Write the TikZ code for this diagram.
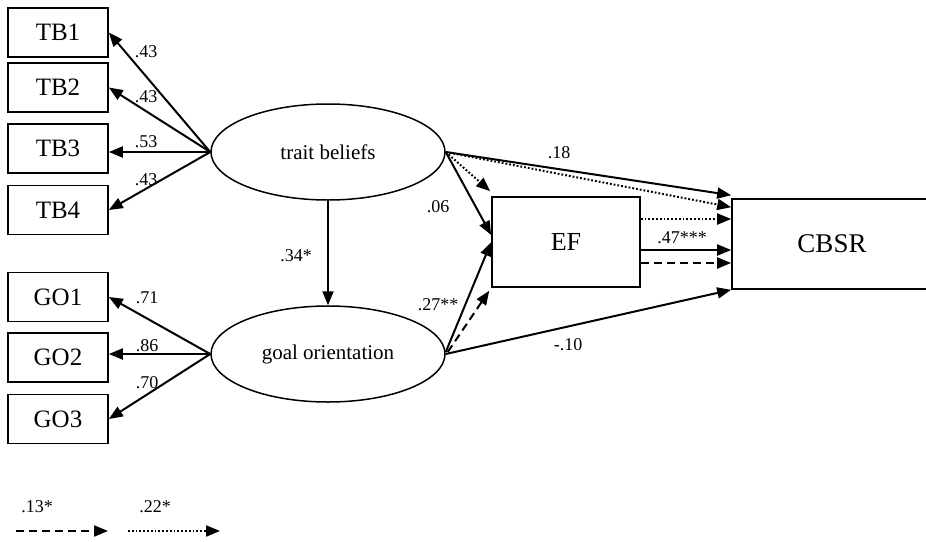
\documentclass[tikz,border=0pt]{standalone}
\usepackage{fontspec}
\setmainfont{Liberation Serif}
\usetikzlibrary{arrows.meta,shapes.geometric}

\tikzset{
    ind/.style={draw, line width=1.6pt, minimum width=100pt, minimum height=49pt, inner sep=0pt, font=\fontsize{25}{25}\selectfont},
    lat/.style={draw, ellipse, line width=1.5pt, minimum width=234pt, minimum height=96pt, inner sep=0pt, font=\fontsize{21}{21}\selectfont},
    path/.style={line width=2pt, -{Triangle[length=14pt, width=11pt]}},
    coef/.style={font=\fontsize{18}{18}\selectfont, inner sep=0pt},
    dashline/.style={dash pattern=on 8pt off 5pt},
    dotline/.style={dash pattern=on 1.8pt off 2pt}
}

\begin{document}
\begin{tikzpicture}[x=1pt, y=-1pt]
    \useasboundingbox (0,0) rectangle (926,541);

    \node[ind](tb1) at (58,32.5) {TB1};
    \node[ind](tb2) at (58,87.5) {TB2};
    \node[ind](tb3) at (58,148.5) {TB3};
    \node[ind](tb4) at (58,210) {TB4};

    \node[ind](go1) at (58,297) {GO1};
    \node[ind](go2) at (58,357.5) {GO2};
    \node[ind](go3) at (58,419) {GO3};

    \node[lat](tb) at (328,152) {trait beliefs};
    \node[lat](go) at (328,354) {goal orientation};

    \node[ind, minimum width=148pt, minimum height=90pt, font=\fontsize{26}{26}\selectfont](ef) at (566,242) {EF};
    \node[ind, minimum width=200pt, minimum height=90pt, font=\fontsize{27}{27}\selectfont](cb) at (832,244) {CBSR};

    % loadings
    \draw [path] (tb.west) -- (tb1.east);
    \draw [path] (tb.west) -- (tb2.east);
    \draw [path] (tb.west) -- (tb.west -| tb3.east);
    \draw [path] (tb.west) -- (tb4.east);
    \draw [path] (go.west) -- (go1.east);
    \draw [path] (go.west) -- (go.west -| go2.east);
    \draw [path] (go.west) -- (go3.east);

    \node[coef] at (146,52) {.43};
    \node[coef] at (146,97) {.43};
    \node[coef] at (146,142) {.53};
    \node[coef] at (146,180) {.43};
    \node[coef] at (147,298) {.71};
    \node[coef] at (147,346) {.86};
    \node[coef] at (147,383) {.70};

    % structural paths
    \draw [path] (tb.south) -- (go.north);
    \draw [path] (tb.east) -- ([yshift=3pt]cb.north west);
    \draw [path, dotline] (tb.east) -- ([yshift=-9pt]cb.north west);
    \draw [path, dotline] (tb.east) -- ([shift={(-1pt,5pt)}]ef.north west);
    \draw [path] (tb.east) -- ([yshift=7pt]ef.west);
    \draw [path] ([yshift=2pt]go.east) -- (ef.west);
    \draw [path, dashline] ([shift={(2pt,2pt)}]go.east) -- ([shift={(-2pt,-3pt)}]ef.south west);
    \draw [path] (go.east) -- (cb.south west);
    \draw [path, dotline] ([yshift=23pt]ef.east) -- ([yshift=25pt]cb.west);
    \draw [path] ([yshift=-8pt]ef.east) -- ([yshift=-6pt]cb.west);
    \draw [path, dashline] ([yshift=-21pt]ef.east) -- ([yshift=-19pt]cb.west);

    \node[coef] at (296,256) {.34*};
    \node[coef] at (438,207) {.06};
    \node[coef] at (438,305) {.27**};
    \node[coef] at (559,153) {.18};
    \node[coef] at (568,345) {-.10};
    \node[coef] at (682,238) {.47***};

    % legend
    \coordinate (d1) at (16,531);
    \coordinate (d2) at (108,531);
    \coordinate (p1) at (128,531);
    \coordinate (p2) at (220,531);
    \draw [path, dashline] (d1) -- (d2);
    \draw [path, dotline] (p1) -- (p2);
    \node[coef] at (37,507) {.13*};
    \node[coef] at (155,507) {.22*};
\end{tikzpicture}
\end{document}
